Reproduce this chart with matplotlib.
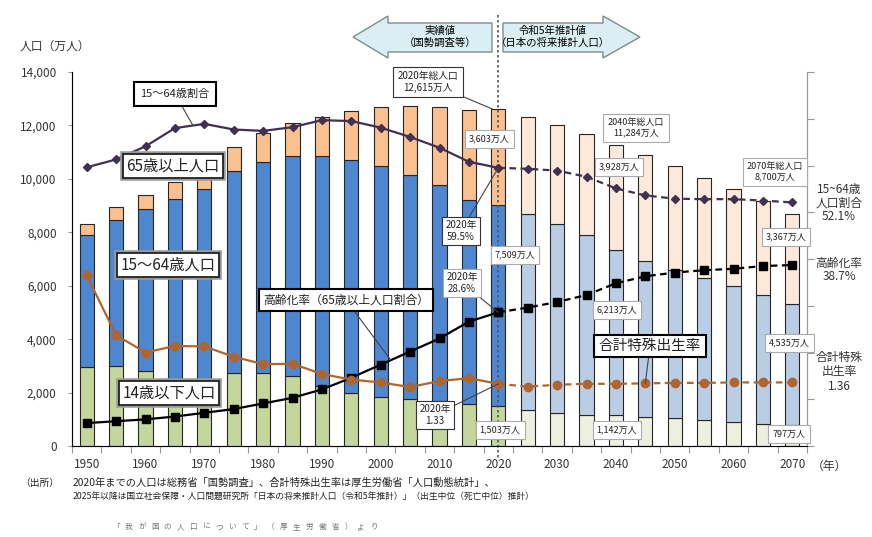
import numpy as np
import matplotlib
matplotlib.use("Agg")
import matplotlib.pyplot as plt
from matplotlib.transforms import Affine2D, blended_transform_factory
from matplotlib.patches import Polygon
import matplotlib.patheffects as pe

plt.rcParams['font.family'] = ['Noto Sans CJK JP', 'DejaVu Sans']

# 人口（万人）
years = np.arange(1950, 2071, 5)
pop_0_14 = [2943, 2980, 2807, 2517, 2482, 2722, 2751, 2603, 2249, 2001, 1847, 1752, 1680,
            1589, 1503, 1363, 1240, 1169, 1142, 1103, 1041, 966, 893, 836, 797]
pop_15_64 = [4966, 5473, 6047, 6744, 7157, 7581, 7883, 8251, 8590, 8716, 8622, 8409, 8103,
             7629, 7509, 7310, 7076, 6722, 6213, 5832, 5540, 5307, 5078, 4809, 4535]
pop_65 = [411, 475, 535, 624, 733, 887, 1065, 1247, 1489, 1826, 2204, 2567, 2925,
          3347, 3603, 3653, 3696, 3773, 3928, 3945, 3888, 3777, 3644, 3529, 3367]
# 割合（%）と合計特殊出生率
ratio_15_64 = [59.6, 61.3, 64.1, 68.0, 68.9, 67.7, 67.4, 68.2, 69.7, 69.5, 68.1, 66.1, 63.8,
               60.8, 59.5, 59.3, 58.9, 57.6, 55.1, 53.6, 52.9, 52.8, 52.8, 52.5, 52.1]
aging_rate = [4.9, 5.3, 5.7, 6.3, 7.1, 7.9, 9.1, 10.3, 12.1, 14.6, 17.4, 20.2, 23.0,
              26.6, 28.6, 29.6, 30.8, 32.3, 34.8, 36.3, 37.1, 37.6, 37.9, 38.5, 38.7]
tfr = [3.65, 2.37, 2.00, 2.14, 2.13, 1.91, 1.75, 1.76, 1.54, 1.42, 1.36, 1.26, 1.39,
       1.45, 1.33, 1.27, 1.31, 1.33, 1.33, 1.34, 1.35, 1.35, 1.36, 1.36, 1.36]
year_labels = np.arange(1950, 2071, 10)

W, H = 872, 537
fig = plt.figure(figsize=(W / 100, H / 100), dpi=100)
pix = Affine2D().scale(1 / W, -1 / H).translate(0, 1) + fig.transFigure

ax = fig.add_axes([72 / W, 1 - 446 / H, (807 - 72) / W, (446 - 72) / H])
ax2 = ax.twinx()
ax3 = ax.twinx()

past = years <= 2020
c65 = np.where(past, '#FAC090', '#FDE9D9')
c1564 = np.where(past, '#4F86D0', '#B9CDE5')
c014 = np.where(past, '#C3D69B', '#EBF1DE')
ec = '#262626'
p0 = np.array(pop_0_14)
p1 = np.array(pop_15_64)
p2 = np.array(pop_65)
ax.bar(years, p0, width=2.4, color=c014, edgecolor=ec, linewidth=0.8)
ax.bar(years, p1, bottom=p0, width=2.4, color=c1564, edgecolor=ec, linewidth=0.8)
ax.bar(years, p2, bottom=p0 + p1, width=2.4, color=c65, edgecolor=ec, linewidth=0.8)

ax.set_xlim(1947.5, 2072.5)
ax.set_ylim(0, 14000)
ax.set_yticks(np.arange(0, 14001, 2000))
ax.set_yticklabels([f"{v:,}" for v in range(0, 14001, 2000)])
ax.set_xticks(np.arange(1947.5, 2073, 5))
ax.set_xticklabels([])
ax.set_xticks(year_labels, minor=True)
ax.set_xticklabels([str(y) for y in year_labels], minor=True)
ax.tick_params(axis='x', which='major', length=5, color='#999999')
ax.tick_params(axis='x', which='minor', length=0, pad=9, labelsize=8.5, labelcolor='#333333')
ax.tick_params(axis='y', length=3, color='#999999', pad=8, labelsize=8.5, labelcolor='#333333')
ax.spines['top'].set_visible(False)
for s in ['left', 'bottom', 'right']:
    ax.spines[s].set_color('#999999')

ax2.set_ylim(0, 80)
ax2.set_yticks(np.arange(0, 81, 10))
ax2.set_yticklabels([])
ax2.tick_params(axis='y', length=5, color='#999999')
ax2.spines['right'].set_color('#999999')
ax2.spines['top'].set_visible(False)
ax3.set_ylim(0, 8)
ax3.axis('off')


def draw_line(a, vals, color, marker, ms):
    a.plot(years[:15], vals[:15], color=color, lw=1.6, marker=marker, ms=ms)
    a.plot(years[14:], vals[14:], color=color, lw=1.6, ls=(0, (3, 2)), marker=marker, ms=ms)


draw_line(ax2, ratio_15_64, '#403152', 'D', 4.5)
draw_line(ax2, aging_rate, 'black', 's', 5.5)
draw_line(ax3, tfr, '#B0652E', 'o', 6)

# 2020年の区切り線
blend = blended_transform_factory(ax.transData, pix)
ax.plot([2020, 2020], [15, 458], transform=blend, clip_on=False,
        color='#555555', lw=1.2, ls=(0, (1.5, 1.5)), zorder=5)

# 上部の矢印
arr_kw = dict(closed=True, transform=pix, facecolor='#DAEEF3', edgecolor='#7F8C8D', lw=1)
fig.add_artist(Polygon([(353, 37), (388, 16), (388, 23), (492, 23), (492, 52),
                        (388, 52), (388, 58)], **arr_kw))
fig.add_artist(Polygon([(503, 23), (603, 23), (603, 16), (640, 37), (603, 58),
                        (603, 52), (503, 52)], **arr_kw))
fig.text(440, 37, "実績値\n（国勢調査等）", transform=pix, ha='center', va='center',
         fontsize=7.5, linespacing=1.15)
fig.text(553, 37, "令和5年推計値\n（日本の将来推計人口）", transform=pix, ha='center', va='center',
         fontsize=7.5, linespacing=1.15)


def box(text, px, py, size=7, ecol='#AAAAAA', lw=0.8, target=None, axes=ax, pad=0.35, shadow=False):
    bb = dict(boxstyle=f'square,pad={pad}', fc='white', ec=ecol, lw=lw)
    if target is None:
        t = ax3.text(px, py, text, transform=pix, ha='center', va='center', fontsize=size,
                     bbox=bb, zorder=6, linespacing=1.15, color='#222222')
    else:
        t = ax3.annotate(text, xy=target, xycoords=axes.transData, xytext=(px, py),
                         textcoords=pix, ha='center', va='center', fontsize=size, bbox=bb,
                         zorder=6, linespacing=1.15, color='#222222', annotation_clip=False,
                         arrowprops=dict(arrowstyle='-', color='#444444', lw=0.8,
                                         shrinkA=0, shrinkB=0))
    if shadow:
        t.get_bbox_patch().set_path_effects([pe.withStroke(linewidth=4, foreground='#9A9A9A')])
    return t


box("15～64歳割合", 175, 94, size=8, ecol='black', lw=1.5, target=(1968, 68.7), axes=ax2, pad=0.6)
box("65歳以上人口", 173, 166, size=11, ecol='#222222', lw=1.3, pad=0.2, shadow=True)
box("15～64歳人口", 168, 265, size=11, ecol='#222222', lw=1.3, pad=0.2, shadow=True)
box("14歳以下人口", 169, 393, size=11, ecol='#222222', lw=1.3, pad=0.2, shadow=True)
box("高齢化率（65歳以上人口割合）", 346, 300, size=8.5, ecol='black', lw=1.5,
    target=(2001.7, 18.4), axes=ax2, pad=0.35)
box("2020年総人口\n12,615万人", 428, 82, size=7, ecol='#333333', target=(2019, 12615), pad=0.5)
box("3,603万人", 489, 139, size=6.5, pad=0.45)
box("2020年\n59.5%", 461, 231, size=7, ecol='#333333', target=(2020, 59.5), axes=ax2, pad=0.35)
box("7,509万人", 515, 255, size=6.5, pad=0.45)
box("2020年\n28.6%", 462, 283, size=7, target=(2020, 28.6), axes=ax2, pad=0.35)
box("2020年\n1.33", 435, 415, size=7, ecol='#333333', target=(2020, 1.33), axes=ax3, pad=0.35)
box("1,503万人", 500, 430, size=6.5, pad=0.45)
box("2040年総人口\n11,284万人", 636, 128, size=6.5, pad=0.5)
box("3,928万人", 619, 167, size=6.5, pad=0.45)
box("6,213万人", 617, 310, size=6.5, pad=0.45)
box("1,142万人", 617, 430, size=6.5, pad=0.45)
box("合計特殊出生率", 650, 346, size=10.5, ecol='black', lw=1.5, target=(2045, 1.34), axes=ax3, pad=0.3)
box("2070年総人口\n8,700万人", 775, 172, size=6.5, pad=0.45)
box("3,367万人", 786, 237, size=6.5, pad=0.45)
box("4,535万人", 789, 343, size=6.5, pad=0.45)
box("797万人", 789, 434, size=6.5, pad=0.45)

# 右側のラベル
side_kw = dict(transform=pix, ha='center', va='center', fontsize=8.5, color='#333333', linespacing=1.1)
fig.text(839, 203, "15~64歳\n人口割合\n52.1%", **side_kw)
fig.text(839, 270, "高齢化率\n38.7%", **side_kw)
fig.text(839, 372, "合計特殊\n出生率\n1.36", **side_kw)

fig.text(20, 46, "人口（万人）", transform=pix, ha='left', va='center', fontsize=8.5, color='#333333')
fig.text(829, 466, "（年）", transform=pix, ha='center', va='center', fontsize=8.5, color='#333333')

# 出所
fig.text(20, 483, "（出所）", transform=pix, ha='left', va='center', fontsize=7, color='#222222')
fig.text(73, 483, "2020年までの人口は総務省「国勢調査」、合計特殊出生率は厚生労働省「人口動態統計」、",
         transform=pix, ha='left', va='center', fontsize=7.4, color='#222222')
fig.text(73, 497, "2025年以降は国立社会保障・人口問題研究所「日本の将来推計人口（令和5年推計）」（出生中位（死亡中位）推計）",
         transform=pix, ha='left', va='center', fontsize=6.3, color='#222222')
credit = "「我が国の人口について」（厚生労働省）より"
for i, ch in enumerate(credit):
    fig.text(116 + i * 12.9, 527, ch, transform=pix, ha='center', va='center',
             fontsize=5.5, color='#777777')

fig.savefig("out.png", dpi=100)
